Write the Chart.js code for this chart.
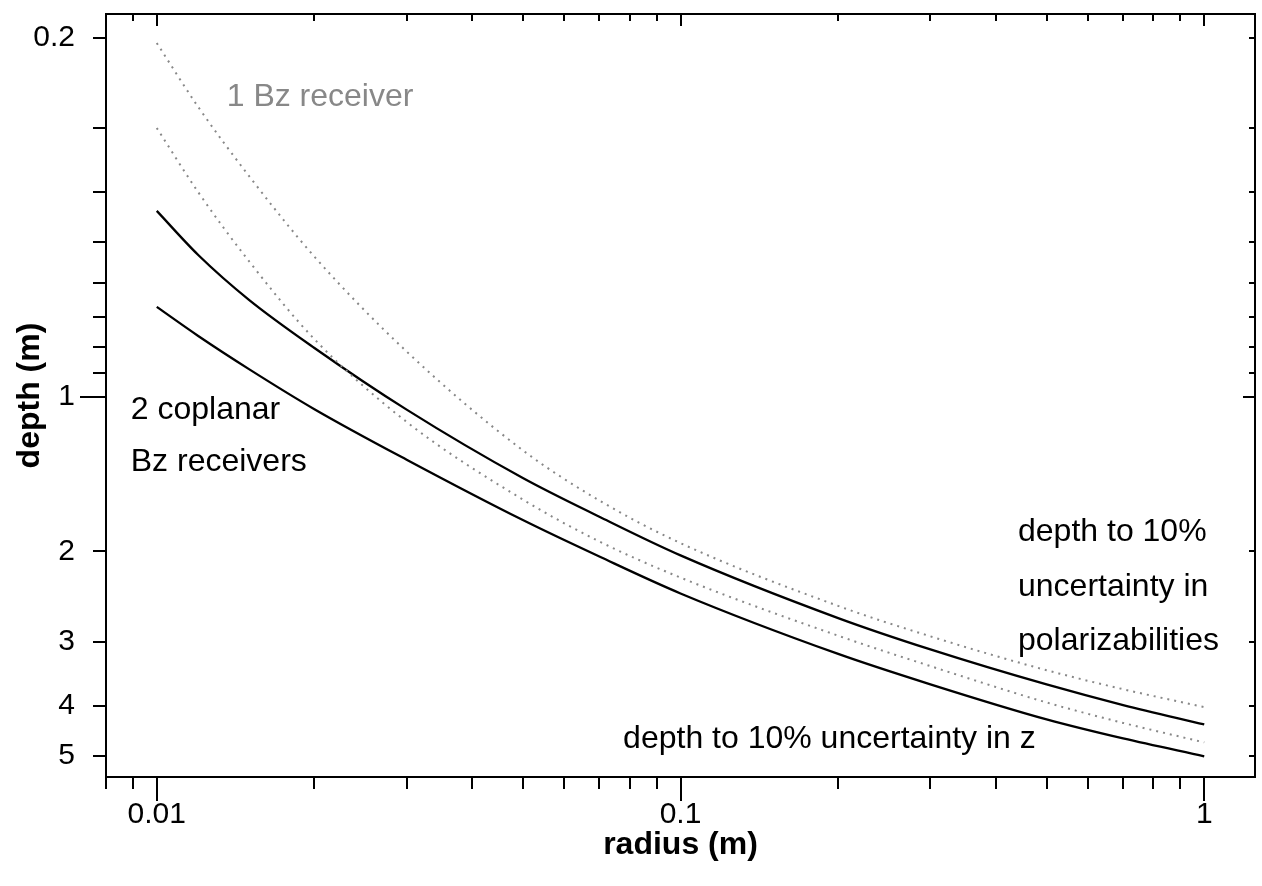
<!DOCTYPE html>
<html>
<head>
<meta charset="utf-8">
<title>depth vs radius</title>
<script src="https://cdn.jsdelivr.net/npm/chart.js@4.4.1/dist/chart.umd.min.js"></script>
<style>
  html, body { margin: 0; padding: 0; background: #fff; }
  canvas { display: block; }
</style>
</head>
<body>
<canvas id="depthChart" width="1262" height="886"></canvas>
<script>
// object radius (m) where the depths were evaluated
const radius = [0.01, 0.012, 0.015, 0.02, 0.03, 0.05, 0.07, 0.1, 0.2, 0.3, 0.5, 0.7, 1];

// depth (m) reached at 10% uncertainty, one Bz receiver
const oneRxPolar = [0.205, 0.273, 0.372, 0.534, 0.817, 1.272, 1.593, 1.928, 2.555, 2.928, 3.408, 3.711, 4.021];
const oneRxZ     = [0.300, 0.400, 0.545, 0.773, 1.120, 1.586, 1.914, 2.250, 2.920, 3.346, 3.938, 4.316, 4.710];

// same thing with two coplanar Bz receivers
const twoRxPolar = [0.435, 0.530, 0.648, 0.804, 1.060, 1.440, 1.713, 2.037, 2.698, 3.105, 3.633, 3.984, 4.345];
const twoRxZ     = [0.669, 0.762, 0.884, 1.058, 1.327, 1.739, 2.048, 2.416, 3.168, 3.631, 4.249, 4.628, 5.012];

// axis ticks
const xTickValues = [0.008, 0.009, 0.01, 0.02, 0.03, 0.04, 0.05, 0.06, 0.07, 0.08, 0.09,
                     0.1, 0.2, 0.3, 0.4, 0.5, 0.6, 0.7, 0.8, 0.9, 1];
const xTickLabels = ['0.01', '0.1', '1'];
const yTickValues = [0.2, 0.3, 0.4, 0.5, 0.6, 0.7, 0.8, 0.9, 1, 2, 3, 4, 5];
const yTickLabels = ['0.2', '1', '2', '3', '4', '5'];

const FONT = '"Liberation Sans", Arial, Helvetica, sans-serif';
const GREY = '#888888';

function toPoints(ys) {
  return radius.map((r, i) => ({ x: r, y: ys[i] }));
}

function isDecade(v) {
  const l = Math.log10(v);
  return Math.abs(l - Math.round(l)) < 1e-9;
}

function labelFor(list) {
  return function (value) {
    const s = String(+value.toPrecision(6));
    return list.indexOf(s) >= 0 ? s : '';
  };
}

// text placed in data coordinates
const notes = [
  { text: '1 Bz receiver', x: 0.0136, y: 0.272, color: GREY },
  { text: '2 coplanar', x: 0.00892, y: 1.105, color: '#000' },
  { text: 'Bz receivers', x: 0.00892, y: 1.395, color: '#000' },
  { text: 'depth to 10%', x: 0.441, y: 1.91, color: '#000' },
  { text: 'uncertainty in', x: 0.441, y: 2.44, color: '#000' },
  { text: 'polarizabilities', x: 0.441, y: 3.11, color: '#000' },
  { text: 'depth to 10% uncertainty in z', x: 0.0777, y: 4.82, color: '#000' }
];

// frame box with ticks out on left/bottom and in on top/right
const framePlugin = {
  id: 'frame',
  afterDraw(chart) {
    const { ctx, chartArea: a, scales: { x, y } } = chart;
    ctx.save();
    ctx.strokeStyle = '#000';
    ctx.lineWidth = 2;
    ctx.lineCap = 'butt';
    ctx.beginPath();
    xTickValues.forEach(v => {
      const px = Math.round(x.getPixelForValue(v));
      const big = isDecade(v);
      ctx.moveTo(px, a.bottom);
      ctx.lineTo(px, a.bottom + (big ? 24 : 12));
      ctx.moveTo(px, a.top);
      ctx.lineTo(px, a.top + (big ? 12 : 7));
    });
    yTickValues.forEach(v => {
      const py = Math.round(y.getPixelForValue(v));
      const big = isDecade(v);
      ctx.moveTo(a.left, py);
      ctx.lineTo(a.left - (big ? 26 : 13), py);
      ctx.moveTo(a.right, py);
      ctx.lineTo(a.right - (big ? 12 : 6), py);
    });
    ctx.stroke();
    ctx.strokeRect(a.left, a.top, a.right - a.left, a.bottom - a.top);
    ctx.restore();
  },
  afterDatasetsDraw(chart) {
    const { ctx, scales: { x, y } } = chart;
    ctx.save();
    ctx.font = '32px ' + FONT;
    ctx.textAlign = 'left';
    ctx.textBaseline = 'alphabetic';
    notes.forEach(n => {
      ctx.fillStyle = n.color;
      ctx.fillText(n.text, x.getPixelForValue(n.x), y.getPixelForValue(n.y));
    });
    ctx.restore();
  }
};

const solid = { borderColor: '#000', borderWidth: 2.3 };
const dotted = { borderColor: GREY, borderWidth: 2, borderDash: [2, 5] };

new Chart(document.getElementById('depthChart'), {
  type: 'line',
  data: {
    datasets: [
      Object.assign({ label: '1 Bz, polarizabilities', data: toPoints(oneRxPolar) }, dotted),
      Object.assign({ label: '1 Bz, z', data: toPoints(oneRxZ) }, dotted),
      Object.assign({ label: '2 Bz, polarizabilities', data: toPoints(twoRxPolar) }, solid),
      Object.assign({ label: '2 Bz, z', data: toPoints(twoRxZ) }, solid)
    ]
  },
  options: {
    responsive: false,
    animation: false,
    devicePixelRatio: 1,
    layout: { padding: { top: 14, right: 7, left: 0, bottom: 0 } },
    elements: {
      point: { radius: 0, hoverRadius: 0 },
      line: { cubicInterpolationMode: 'monotone', fill: false }
    },
    plugins: {
      legend: { display: false },
      tooltip: { enabled: false }
    },
    scales: {
      x: {
        type: 'logarithmic',
        min: 0.008,
        max: 1.25,
        grid: { display: false, drawTicks: false },
        border: { display: false },
        afterBuildTicks: s => { s.ticks = xTickValues.map(v => ({ value: v })); },
        afterFit: s => {
          s.height = 109;
          s.paddingLeft = 0;
          s.paddingRight = 0;
        },
        ticks: {
          autoSkip: false,
          maxRotation: 0,
          padding: 20,
          color: '#000',
          font: { family: FONT, size: 30 },
          callback: labelFor(xTickLabels)
        },
        title: {
          display: true,
          text: 'radius (m)',
          color: '#000',
          font: { family: FONT, size: 32, weight: 'bold' },
          padding: { top: 0, bottom: 22 }
        }
      },
      y: {
        type: 'logarithmic',
        reverse: true,
        min: 0.18,
        max: 5.5,
        grid: { display: false, drawTicks: false },
        border: { display: false },
        afterBuildTicks: s => { s.ticks = yTickValues.map(v => ({ value: v })); },
        afterFit: s => {
          s.width = 106;
          s.paddingTop = 0;
          s.paddingBottom = 0;
        },
        ticks: {
          autoSkip: false,
          padding: 31,
          color: '#000',
          font: { family: FONT, size: 30 },
          callback: labelFor(yTickLabels)
        },
        title: {
          display: true,
          text: 'depth (m)',
          color: '#000',
          font: { family: FONT, size: 32, weight: 'bold' },
          padding: { top: 11, bottom: 0 }
        }
      }
    }
  },
  plugins: [framePlugin]
});
</script>
</body>
</html>
